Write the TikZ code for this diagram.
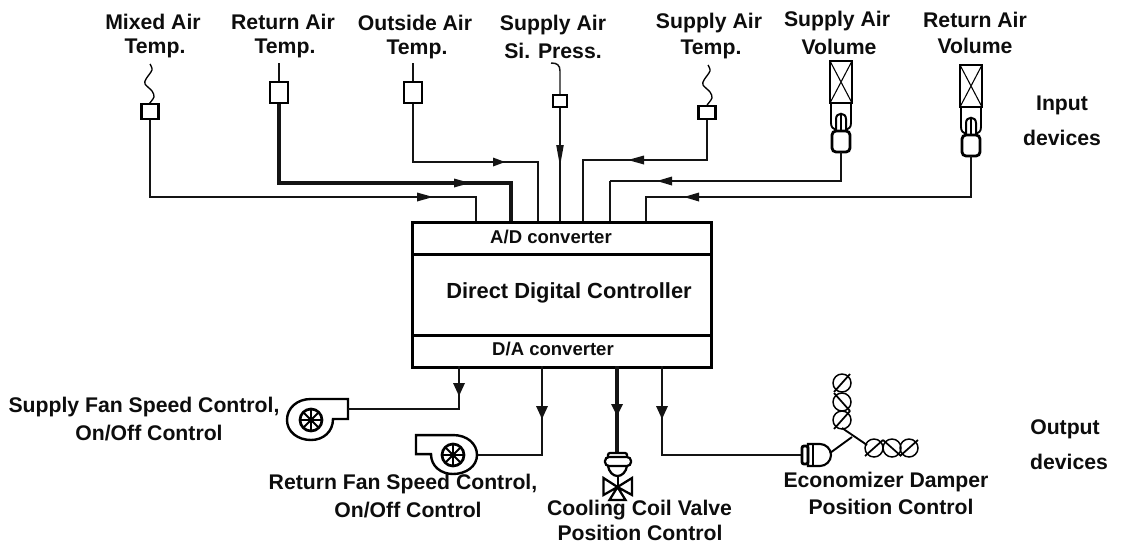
\documentclass[tikz,border=0pt]{standalone}
\usepackage{fontspec}
\setmainfont{Liberation Sans}
\usetikzlibrary{arrows.meta}
\newcommand\tipat[4]{\fill[black!92,shift={(#1)},rotate=#2] (0,0) -- (-#3,-#4) -- (-#3,#4) -- cycle;}
\tikzset{
  wire/.style={line width=2.1pt,black!92,line join=miter},
  thinwire/.style={line width=1.1pt,black!92},
  lab/.style={font=\bfseries\fontsize{15.9}{18}\selectfont,inner sep=0pt,text=black!95},
  smalllab/.style={font=\bfseries\fontsize{13.9}{16}\selectfont,inner sep=0pt,text=black!95},
  biglab/.style={font=\bfseries\fontsize{16.4}{20}\selectfont,inner sep=0pt,text=black!95},
  sensorbox/.style={draw,line width=1.8pt,fill=white,inner sep=0pt},
  panel/.style={draw,line width=2.3pt,fill=white,inner sep=0pt,anchor=north west,minimum width=224.25pt},
  damper/.style={draw,circle,line width=1.1pt,minimum size=13.5pt,inner sep=0pt},
  wheel/.pic={
    \draw[line width=2pt] (0,0) circle[radius=11];
    \foreach \a in {0,45,90,135}{\draw[line width=1.5pt] ({11*cos(\a)},{11*sin(\a)}) -- ({-11*cos(\a)},{-11*sin(\a)});}
    \fill (0,0) circle[radius=3];
  },
  fanshape/.pic={
    \draw[line width=1.8pt,line join=miter] (37,-21) -- (0,-21) .. controls (-14,-21) and (-24,-12) .. (-24,0) .. controls (-24,12) and (-13,20) .. (0,20) .. controls (12,20) and (22,12) .. (22,-1) -- (37,-1) -- cycle;
    \pic {wheel};
  },
  volmeter/.pic={
    \draw[line width=1.5pt] (-11,0) rectangle (11,42);
    \draw[line width=0.8pt] (-11,0) -- (11,42) (11,0) -- (-11,42);
    \draw[line width=1.4pt] (-10,42) -- (-10,62) .. controls (-10,66) and (-8,68) .. (-5,69) (10,42) -- (10,62) .. controls (10,66) and (8,68) .. (5,69);
    \draw[line width=1.5pt] (-5,70) -- (-5,58) .. controls (-5,51) and (5,51) .. (5,58) -- (5,70);
    \draw[line width=1.3pt] (0,54) -- (0,70);
    \draw[line width=2.1pt,rounded corners=3pt] (-9,70) rectangle (9,91);
  },
  wiggle/.pic={
    \draw[line width=1pt] plot[smooth] coordinates {(1,0) (3,6) (-3,15) (-4,20) (3,27) (5,33) (0,40)};
  },
}
\begin{document}
\begin{tikzpicture}[x=0.75pt,y=-0.75pt]
\useasboundingbox[fill=white] (0,0) rectangle (1122,543);

% controller
\node[panel,minimum height=24pt] (ad) at (411,221) {};
\node[panel,minimum height=61pt] (core) at (411,253) {};
\node[panel,minimum height=24pt] (da) at (411,334) {};
\node[smalllab] (adt) at (551,237) {A/D converter};
\node[biglab] (coret) at (569,293) {Direct Digital Controller};
\node[smalllab] (dat) at (553,349) {D/A converter};

% ports
\coordinate (p1) at (476,221);
\coordinate (p2) at (511,221);
\coordinate (p3) at (538,221);
\coordinate (p4) at (560,221);
\coordinate (p5) at (583,221);
\coordinate (p6) at (610,221);
\coordinate (p7) at (646,221);
\coordinate (q1) at (459,366);
\coordinate (q2) at (542,366);
\coordinate (q3) at (617,366);
\coordinate (q4) at (662,366);

% sensors
\pic at (149,64) {wiggle};
\pic at (707,65) {wiggle};
\node[sensorbox,minimum width=13pt,minimum height=11pt] (s1) at (150,111.5) {};
\node[sensorbox,minimum width=13.5pt,minimum height=16pt] (s2) at (279,92.5) {};
\node[sensorbox,minimum width=13.5pt,minimum height=16pt] (s3) at (413,92.5) {};
\node[sensorbox,minimum width=10.5pt,minimum height=9pt] (s4) at (560,101) {};
\node[sensorbox,minimum width=13pt,minimum height=10pt] (s5) at (707,112.5) {};
\coordinate (t2) at (279,63);
\coordinate (t3) at (413,63);
\draw[wire] (t2) -- (s2.north);
\draw[wire] (t3) -- (s3.north);
\coordinate (h4) at (551,63);
\draw[thinwire] (h4) .. controls (557,63) and (560,65) .. (560,71) -- (s4.north);
\pic at (841,61) {volmeter};
\pic at (971,65) {volmeter};
\coordinate (s6) at (841,152);
\coordinate (s7) at (971,156);

% input wires
\coordinate (b1) at (476,197);
\coordinate (b2) at (511,183);
\coordinate (b3) at (538,162);
\coordinate (b5) at (583,160);
\coordinate (b6) at (610,181);
\coordinate (b7) at (646,197);
\draw[wire] (s1.south) |- (b1) -- (p1);
\draw[wire,line width=2.3pt] (s2.south) |- (b2) -- (p2);
\draw[wire,line width=1.6pt] (s3.south) |- (b3) -- (p3);
\draw[wire,line width=1.6pt] (s4.south) -- (p4);
\draw[wire] (s5.south) |- (b5) -- (p5);
\draw[wire,line width=1.5pt] (s6) |- (b6);
\draw[wire] (b6) -- (p6);
\draw[wire] (s7) |- (b7) -- (p7);
% input arrow heads
\coordinate (a1) at (433,197);
\coordinate (a2) at (470,183);
\coordinate (a3) at (505,162);
\coordinate (a4) at (560,166);
\coordinate (a5) at (628,160);
\coordinate (a6) at (657,181);
\coordinate (a7) at (684,197);
\tipat{a1}{0}{16}{4.5}
\tipat{a2}{0}{16}{4.5}
\tipat{a3}{0}{12}{4.5}
\tipat{a4}{-90}{21}{3.8}
\tipat{a5}{180}{16}{4.5}
\tipat{a6}{180}{15}{4.5}
\tipat{a7}{180}{15}{4.5}

% output devices
\pic at (311,420) {fanshape};
\pic[xscale=-1,yscale=0.95] at (453,455) {fanshape};
\coordinate (f1) at (348,409);
\coordinate (f2) at (478,455);
\coordinate (m3) at (617,453);
\coordinate (m4) at (802,455);
\draw[wire] (q1) |- (f1);
\draw[wire] (q2) |- (f2);
\draw[wire,line width=2.5pt] (q3) -- (m3);
\draw[wire] (q4) |- (m4);
\coordinate (o1) at (459,396);
\coordinate (o2) at (542,419);
\coordinate (o3) at (617,416);
\coordinate (o4) at (662,419);
\tipat{o1}{-90}{13}{6}
\tipat{o2}{-90}{13}{6}
\tipat{o3}{-90}{12}{6}
\tipat{o4}{-90}{13}{6}

% valve
\draw[line width=1.7pt,rounded corners=1.5pt] (608,457) -- (608,453) -- (627,453) -- (627,457);
\draw[line width=1.7pt,rounded corners=3pt] (605,457) rectangle (631,466);
\draw[line width=1.7pt] (608,466) .. controls (609,472) and (613,476) .. (617.5,476) .. controls (622,476) and (626,472) .. (627,466);
\draw[line width=1.5pt] (617.5,476) -- (617.5,487);
\draw[line width=1.7pt,line join=miter] (617.5,487) -- (603.5,478) -- (603.5,495) -- cycle (617.5,487) -- (632,478) -- (632,495) -- cycle (617.5,487) -- (609.5,500) -- (625.5,500) -- cycle;

% economizer actuator
\draw[line width=2.1pt,rounded corners=1.5pt] (802,446) rectangle (808,464);
\draw[line width=1.6pt] (808,444) -- (820,444) .. controls (826,444) and (831,449) .. (831,455) .. controls (831,461) and (826,466) .. (820,466) -- (808,466) -- cycle;
\draw[line width=1.4pt] (813,444) -- (813,466);
% dampers
\node[damper] (d1) at (842,383) {};
\node[damper] (d2) at (842,402) {};
\node[damper] (d3) at (842,420) {};
\node[damper] (d4) at (874,448) {};
\node[damper] (d5) at (892,448) {};
\node[damper] (d6) at (909,448) {};
\foreach \n/\x/\y/\dx/\dy in {1/842/383/8/-9,3/842/420/8/-9,4/874/448/9/-8,6/909/448/9/-8}{
  \draw[line width=1.3pt] (\x-\dx,\y-\dy) -- (\x+\dx,\y+\dy);
}
\foreach \n/\x/\y/\dx/\dy in {2/842/402/8/9,5/892/448/9/8}{
  \draw[line width=1.3pt] (\x-\dx,\y-\dy) -- (\x+\dx,\y+\dy);
}
\coordinate (j1) at (842,428);
\coordinate (j2) at (867,445);
\coordinate (j3) at (830,453);
\coordinate (j4) at (852,437);
\draw[line width=1.4pt] (j1) -- (j2);
\draw[line width=1.4pt] (j3) -- (j4);

% labels
\node[lab] (l1a) at (153,22) {Mixed Air};
\node[lab] (l1b) at (155,48) {Temp.};
\node[lab] (l2a) at (283,22) {Return Air};
\node[lab] (l2b) at (285,48) {Temp.};
\node[lab] (l3a) at (415,23) {Outside Air};
\node[lab] (l3b) at (417,49) {Temp.};
\node[lab] (l4a) at (553,25) {Supply Air};
\node[lab] (l4b) at (553,51) {Si. Press.};
\node[lab] (l5a) at (709,23) {Supply Air};
\node[lab] (l5b) at (711,49) {Temp.};
\node[lab] (l6a) at (837,21) {Supply Air};
\node[lab] (l6b) at (839,47) {Volume};
\node[lab] (l7a) at (975,20) {Return Air};
\node[lab] (l7b) at (975,46) {Volume};
\node[lab] (r1) at (1062,105) {Input};
\node[lab] (r2) at (1062,138) {devices};
\node[lab] (r3) at (1065,429) {Output};
\node[lab] (r4) at (1069,462) {devices};
\node[lab] (t1a) at (144,407) {Supply Fan Speed Control,};
\node[lab] (t1b) at (149,433) {On/Off Control};
\node[lab] (t2a) at (403,484) {Return Fan Speed Control,};
\node[lab] (t2b) at (408,510) {On/Off Control};
\node[lab] (t3a) at (639.5,510) {Cooling Coil Valve};
\node[lab] (t3b) at (640,533) {Position Control};
\node[lab] (t4a) at (886,482) {Economizer Damper};
\node[lab] (t4b) at (891,507) {Position Control};
\end{tikzpicture}
\end{document}
